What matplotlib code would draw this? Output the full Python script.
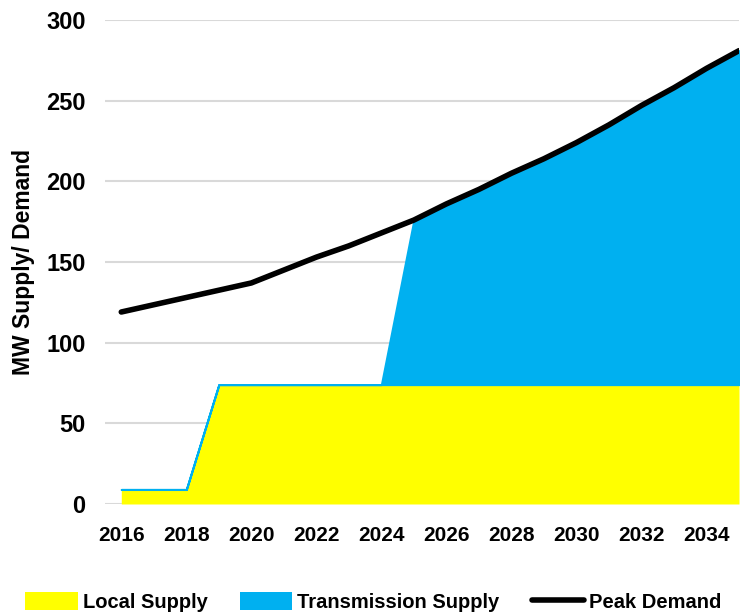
import numpy as np
import matplotlib.pyplot as plt
from matplotlib.patches import Patch
from matplotlib.lines import Line2D

years = list(range(2016, 2036))
local_supply = [9, 9, 9, 74, 74, 74, 74, 74, 74, 74,
                74, 74, 74, 74, 74, 74, 74, 74, 74, 74]
transmission_supply = [0, 0, 0, 0, 0, 0, 0, 0, 0, 102,
                       112, 121, 131, 140, 150, 161, 173, 184, 196, 207]
peak_demand = [119, 123.5, 128, 132.5, 137, 145, 153, 160, 168, 176,
               186, 195, 205, 214, 224, 235, 247, 258, 270, 281]

plt.rcParams['font.family'] = ['Liberation Sans', 'DejaVu Sans']

yellow = '#FFFF00'
blue = '#00B0F0'

fig = plt.figure(figsize=(7.47, 6.15), dpi=100)
ax = fig.add_axes([0.1406, 0.1805, 0.8487, 0.787])

x = np.array(years)
local = np.array(local_supply)
trans = np.array(transmission_supply)

ax.fill_between(x, 0, local, color=yellow, linewidth=0, zorder=2)
ax.fill_between(x, local, local + trans, facecolor=blue, edgecolor=blue, linewidth=1.5, zorder=2)
ax.plot(x, peak_demand, color='black', linewidth=4, solid_capstyle='round', zorder=3)

ax.set_xlim(2015.5, 2035)
ax.set_ylim(0, 300)
ax.set_xticks(range(2016, 2035, 2))
ax.set_yticks(range(0, 301, 50))
ax.grid(axis='y', color='#d9d9d9', linewidth=1.5, zorder=0)
ax.set_axisbelow(True)
for s in ax.spines.values():
    s.set_visible(False)
ax.tick_params(length=0)
ax.tick_params(axis='x', pad=16)
ax.tick_params(axis='y', pad=14)
for lbl in ax.get_xticklabels():
    lbl.set_fontweight('bold')
    lbl.set_fontsize(15)
for lbl in ax.get_yticklabels():
    lbl.set_fontweight('bold')
    lbl.set_fontsize(17)
ax.set_ylabel('MW Supply/ Demand', fontsize=16.5, fontweight='bold', labelpad=8)

handles = [Patch(facecolor=yellow, edgecolor='none'),
           Patch(facecolor=blue, edgecolor='none'),
           Line2D([0], [0], color='black', linewidth=4, solid_capstyle='round')]
labels = ['Local Supply', 'Transmission Supply', 'Peak Demand']
fig.legend(handles, labels, loc='lower center', ncol=3, frameon=False,
           bbox_to_anchor=(0.5, -0.024), handlelength=2.6, handleheight=1.0,
           handletextpad=0.25, columnspacing=1.6,
           prop={'weight': 'bold', 'size': 14.5})

fig.savefig('out.png', dpi=100)
